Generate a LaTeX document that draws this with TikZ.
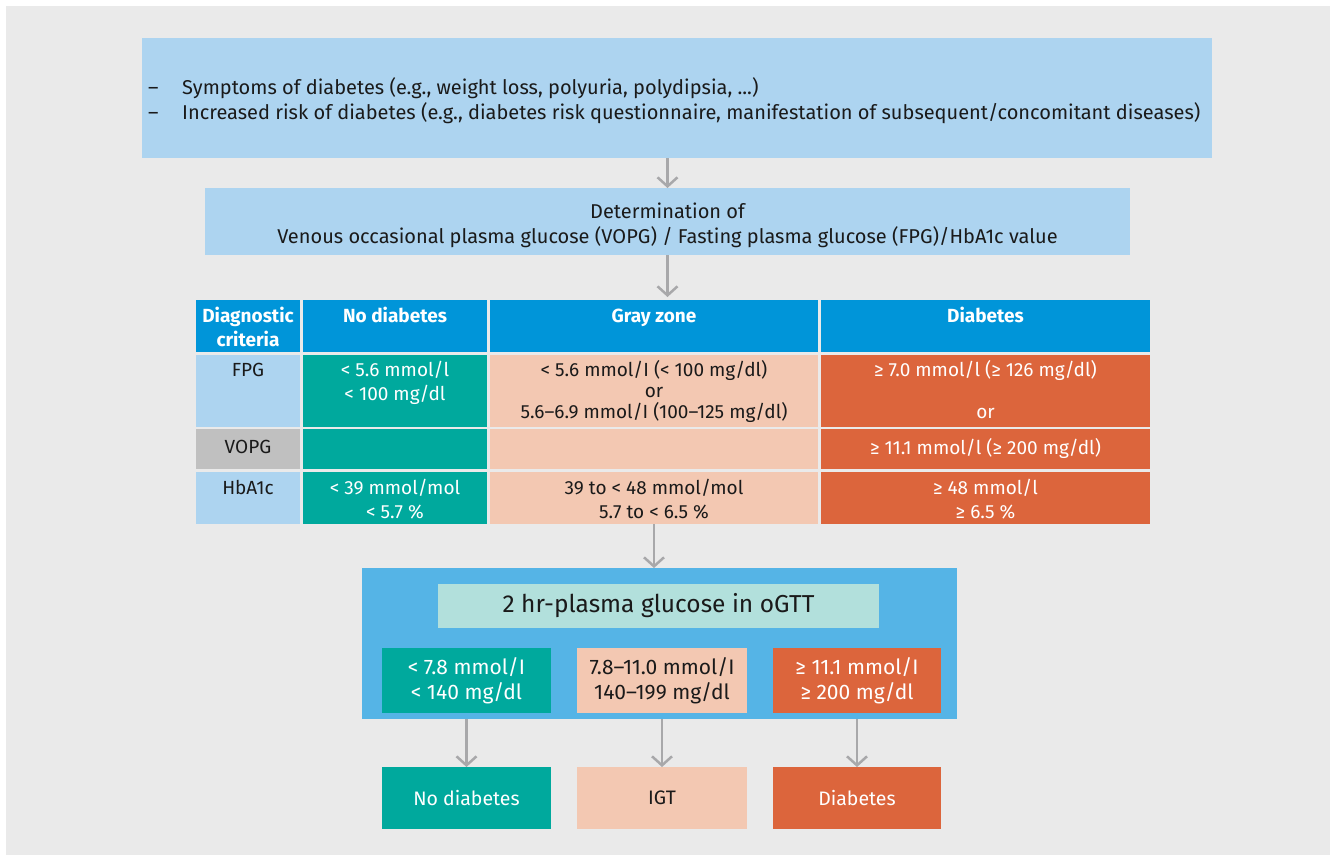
\documentclass[tikz,border=0pt]{standalone}
\usepackage{fontspec}
\setmainfont{Fira Sans}
\usetikzlibrary{arrows.meta,calc}
\definecolor{bggray}{RGB}{234,234,234}
\definecolor{lblue}{RGB}{173,212,240}
\definecolor{hblue}{RGB}{0,149,217}
\definecolor{tealc}{RGB}{0,169,157}
\definecolor{peach}{RGB}{243,200,178}
\definecolor{orangec}{RGB}{220,101,60}
\definecolor{vgray}{RGB}{192,192,192}
\definecolor{oblue}{RGB}{85,180,230}
\definecolor{otitle}{RGB}{178,224,220}
\definecolor{arrgray}{RGB}{168,168,170}
\definecolor{txt}{RGB}{26,26,26}
\tikzset{
  box/.style={inner sep=0pt, outer sep=0pt, anchor=north west, draw=none},
  arr/.style={draw=arrgray, line width=2.5pt, -{Straight Barb[length=9pt,width=20pt]}},
  tfont/.style={font=\fontsize{19}{24}\selectfont, inner sep=0pt, anchor=base, align=center},
  hfont/.style={font=\bfseries\fontsize{19}{24}\selectfont, inner sep=0pt, anchor=base, align=center, text=white},
  cfont/.style={font=\fontsize{21}{25}\selectfont, align=center},
  rfont/.style={font=\fontsize{19.5}{24}\selectfont, align=center},
  lfont/.style={font=\fontsize{20}{25}\selectfont, inner sep=0pt, text=txt},
}
\begin{document}
\begin{tikzpicture}[x=1pt,y=-1pt]
\useasboundingbox (0,0) rectangle (1335,860);
\fill[white] (0,0) rectangle (1335,860);
\fill[bggray] (6,6) rectangle (1330,855);

% top box
\node[box, fill=lblue, minimum width=1070pt, minimum height=120pt] (sym) at (142,38) {};
\node[lfont, anchor=base west] (s1) at (148,94)
  {\makebox[34pt][l]{–}Symptoms of diabetes (e.g., weight loss, polyuria, polydipsia, ...)};
\node[lfont, anchor=base west] (s2) at (148,119)
  {\makebox[34pt][l]{–}Increased risk of diabetes (e.g., diabetes risk questionnaire, manifestation of subsequent/concomitant diseases)};

% determination box
\node[box, fill=lblue, minimum width=925pt, minimum height=67pt] (det) at (205,188) {};
\node[lfont, anchor=base] (d1) at (667.5,218) {Determination of};
\node[lfont, anchor=base] (d2) at (667.5,243) {Venous occasional plasma glucose (VOPG) / Fasting plasma glucose (FPG)/HbA1c value};

% table header
\node[box, fill=hblue, minimum width=104pt, minimum height=52pt] (h1) at (196,300) {};
\node[box, fill=hblue, minimum width=184pt, minimum height=52pt] (h2) at (303,300) {};
\node[box, fill=hblue, minimum width=328pt, minimum height=52pt] (h3) at (490,300) {};
\node[box, fill=hblue, minimum width=329pt, minimum height=52pt] (h4) at (821,300) {};
\node[hfont] (h1a) at (248,322) {Diagnostic};
\node[hfont] (h1b) at (248,346) {criteria};
\node[hfont] (h2t) at (395,322) {No diabetes};
\node[hfont] (h3t) at (654,322) {Gray zone};
\node[hfont] (h4t) at (985.5,322) {Diabetes};

% FPG row
\node[box, fill=lblue, minimum width=104pt, minimum height=72pt] (f1) at (196,355) {};
\node[box, fill=tealc, minimum width=184pt, minimum height=72pt] (f2) at (303,355) {};
\node[box, fill=peach, minimum width=328pt, minimum height=72pt] (f3) at (490,355) {};
\node[box, fill=orangec, minimum width=329pt, minimum height=72pt] (f4) at (821,355) {};
\node[tfont, text=txt] (f1t) at (248,376) {FPG};
\node[tfont, text=white] (f2a) at (395,376) {< 5.6 mmol/l};
\node[tfont, text=white] (f2b) at (395,400) {< 100 mg/dl};
\node[tfont, text=txt] (f3a) at (654,376) {< 5.6 mmol/I (< 100 mg/dl)};
\node[tfont, text=txt] (f3b) at (654,397) {or};
\node[tfont, text=txt] (f3c) at (654,418) {5.6–6.9 mmol/I (100–125 mg/dl)};
\node[tfont, text=white] (f4a) at (985.5,376) {≥ 7.0 mmol/l (≥ 126 mg/dl)};
\node[tfont, text=white] (f4b) at (985.5,418) {or};

% VOPG row
\node[box, fill=vgray, minimum width=104pt, minimum height=40pt] (v1) at (196,429) {};
\node[box, fill=tealc, minimum width=184pt, minimum height=40pt] (v2) at (303,429) {};
\node[box, fill=peach, minimum width=328pt, minimum height=40pt] (v3) at (490,429) {};
\node[box, fill=orangec, minimum width=329pt, minimum height=40pt] (v4) at (821,429) {};
\node[tfont, text=txt] (v1t) at (248,453) {VOPG};
\node[tfont, text=white] (v4t) at (985.5,454) {≥ 11.1 mmol/l (≥ 200 mg/dl)};

% HbA1c row
\node[box, fill=lblue, minimum width=104pt, minimum height=52pt] (b1) at (196,472) {};
\node[box, fill=tealc, minimum width=184pt, minimum height=52pt] (b2) at (303,472) {};
\node[box, fill=peach, minimum width=328pt, minimum height=52pt] (b3) at (490,472) {};
\node[box, fill=orangec, minimum width=329pt, minimum height=52pt] (b4) at (821,472) {};
\node[tfont, text=txt] (b1t) at (248,494) {HbA1c};
\node[tfont, text=white] (b2a) at (395,494) {< 39 mmol/mol};
\node[tfont, text=white] (b2b) at (395,518) {< 5.7 \%};
\node[tfont, text=txt] (b3a) at (654,494) {39 to < 48 mmol/mol};
\node[tfont, text=txt] (b3b) at (654,518) {5.7 to < 6.5 \%};
\node[tfont, text=white] (b4a) at (985.5,494) {≥ 48 mmol/l};
\node[tfont, text=white] (b4b) at (985.5,518) {≥ 6.5 \%};

% oGTT block
\node[box, fill=oblue, minimum width=595pt, minimum height=151pt] (og) at (362,568) {};
\node[box, fill=otitle, minimum width=441pt, minimum height=44pt, text=txt, font=\fontsize{24.5}{30}\selectfont] (ogt) at (438,584) {2 hr-plasma glucose in oGTT};
\node[box, fill=tealc, minimum width=169pt, minimum height=65pt, text=white, cfont] (o1) at (382,648) {< 7.8 mmol/I\\< 140 mg/dl};
\node[box, fill=peach, minimum width=170pt, minimum height=65pt, text=txt, cfont] (o2) at (577,648) {7.8–11.0 mmol/I\\140–199 mg/dl};
\node[box, fill=orangec, minimum width=168pt, minimum height=65pt, text=white, cfont] (o3) at (773,648) {≥ 11.1 mmol/I\\≥ 200 mg/dl};

% results
\node[box, fill=tealc, minimum width=169pt, minimum height=62pt, text=white, rfont] (r1) at (382,767) {No diabetes};
\node[box, fill=peach, minimum width=170pt, minimum height=62pt, text=txt, rfont] (r2) at (577,767) {IGT};
\node[box, fill=orangec, minimum width=168pt, minimum height=62pt, text=white, rfont] (r3) at (773,767) {Diabetes};

% arrows
\draw[arr] (det.north |- sym.south) -- (det.north);
\draw[arr] (det.south) -- ([yshift=3pt]det.south |- h3.north);
\draw[arr] (b3.south) -- (b3.south |- og.north);
\draw[arr] (o1.south |- og.south) -- (r1.north);
\draw[arr] (o2.south |- og.south) -- (r2.north);
\draw[arr] (o3.south |- og.south) -- (r3.north);
\end{tikzpicture}
\end{document}
